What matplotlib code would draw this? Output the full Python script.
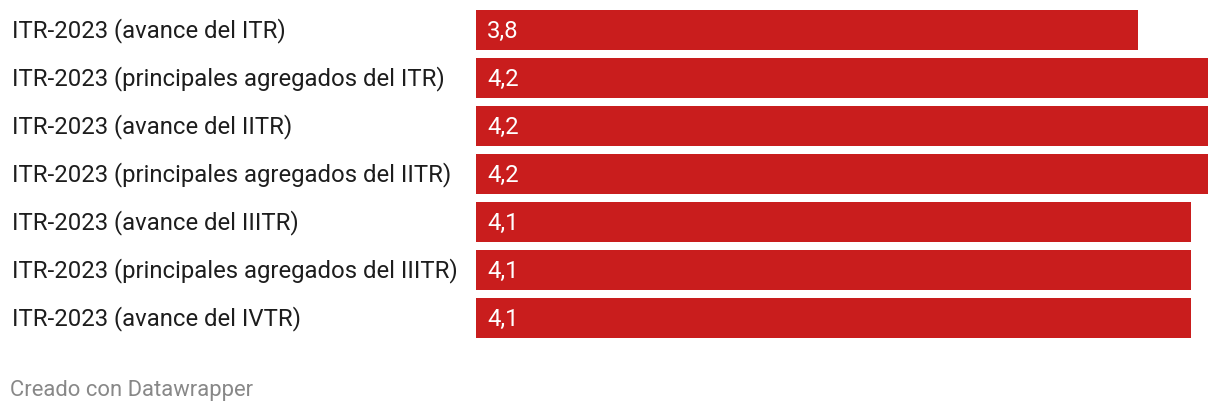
import matplotlib.pyplot as plt

categories = [
    "ITR-2023 (avance del ITR)",
    "ITR-2023 (principales agregados del ITR)",
    "ITR-2023 (avance del IITR)",
    "ITR-2023 (principales agregados del IITR)",
    "ITR-2023 (avance del IIITR)",
    "ITR-2023 (principales agregados del IIITR)",
    "ITR-2023 (avance del IVTR)",
]
values = [3.8, 4.2, 4.2, 4.2, 4.1, 4.1, 4.1]
value_labels = ["3,8", "4,2", "4,2", "4,2", "4,1", "4,1", "4,1"]

plt.rcParams['font.family'] = ['Roboto', 'DejaVu Sans']

W, H = 1220, 414
fig = plt.figure(figsize=(W / 100, H / 100), dpi=100)
ax = fig.add_axes([476 / W, 1 - 339 / H, (1208 - 476) / W, 328 / H])

bar_h = 40 / 48
ypos = list(range(len(values)))
ax.barh(ypos, values, height=bar_h, color='#c91d1d', left=0)
ax.set_xlim(0, 4.2)
ax.set_ylim(len(values) - 1 + bar_h / 2, -bar_h / 2)
ax.axis('off')

for y, lab, vl in zip(ypos, categories, value_labels):
    # category label in figure coords on the left
    ax.annotate(lab, xy=(0, y), xycoords=('axes fraction', 'data'),
                xytext=(12 - 476, 0), textcoords='offset pixels',
                ha='left', va='center', fontsize=17.2, color='#1d1d1d')
    ax.annotate(vl, xy=(0, y), xycoords='data',
                xytext=(11, 0), textcoords='offset pixels',
                ha='left', va='center', fontsize=17.2, color='white')

fig.text(10 / W, 1 - 391 / H, "Creado con Datawrapper", ha='left', va='center',
         fontsize=15.8, color='#888888')

fig.savefig('out.png', dpi=100, facecolor='white')
